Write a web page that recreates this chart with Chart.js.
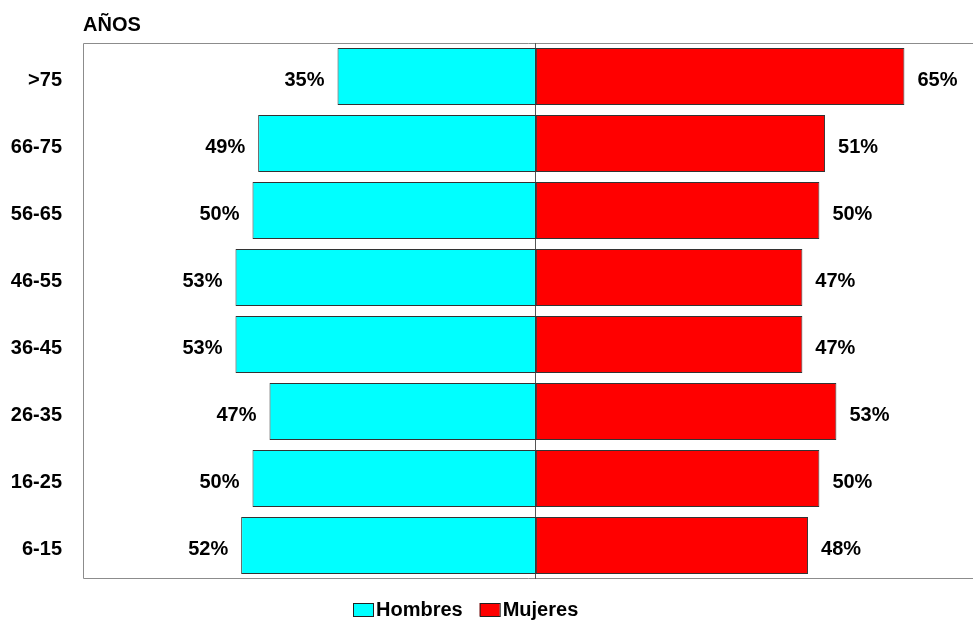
<!DOCTYPE html>
<html>
<head>
<meta charset="utf-8">
<script src="https://cdn.jsdelivr.net/npm/chart.js@4/dist/chart.umd.min.js"></script>
<style>
  html, body { margin: 0; padding: 0; background: #fff; overflow: hidden; }
</style>
</head>
<body>
<canvas id="grafico" width="973" height="621"></canvas>
<script>
// Datos
const grupos = ['>75', '66-75', '56-65', '46-55', '36-45', '26-35', '16-25', '6-15'];
const hombres = [35, 49, 50, 53, 53, 47, 50, 52];
const mujeres = [65, 51, 50, 47, 47, 53, 50, 48];
const series = ['Hombres', 'Mujeres'];
const colores = ['#00FFFF', '#FF0000'];

const FUENTE = '"Liberation Sans", Arial, sans-serif';

// Marco del área, línea central, etiquetas, título "AÑOS" y leyenda
const extras = {
  id: 'extras',
  beforeDatasetsDraw(chart) {
    const { ctx, chartArea: a, scales } = chart;
    ctx.save();
    ctx.strokeStyle = '#8c8c8c';
    ctx.lineWidth = 1;
    ctx.beginPath();
    ctx.moveTo(a.right + 2, a.top + 0.5);
    ctx.lineTo(a.left + 0.5, a.top + 0.5);
    ctx.lineTo(a.left + 0.5, a.bottom - 0.5);
    ctx.lineTo(a.right + 2, a.bottom - 0.5);
    ctx.stroke();
    const x0 = Math.round(scales.x.getPixelForValue(0)) - 0.5;
    ctx.strokeStyle = '#555';
    ctx.beginPath();
    ctx.moveTo(x0, a.top);
    ctx.lineTo(x0, a.bottom);
    ctx.stroke();
    ctx.restore();
  },
  afterDatasetsDraw(chart) {
    const { ctx } = chart;
    ctx.save();
    ctx.font = 'bold 20px ' + FUENTE;
    ctx.fillStyle = '#000';
    ctx.textBaseline = 'middle';
    chart.data.datasets.forEach((ds, i) => {
      chart.getDatasetMeta(i).data.forEach((bar, j) => {
        const v = ds.data[j];
        const txt = Math.abs(v) + '%';
        if (v < 0) {
          ctx.textAlign = 'right';
          ctx.fillText(txt, bar.x - 13, bar.y + 4);
        } else {
          ctx.textAlign = 'left';
          ctx.fillText(txt, bar.x + 13, bar.y + 4);
        }
      });
    });
    ctx.textAlign = 'left';
    ctx.textBaseline = 'alphabetic';
    ctx.fillText('AÑOS', chart.chartArea.left, 31);

    // leyenda
    let x = 353;
    series.forEach((nombre, i) => {
      ctx.fillStyle = colores[i];
      ctx.fillRect(x, 603, 20, 13);
      ctx.strokeStyle = '#222';
      ctx.lineWidth = 1;
      ctx.strokeRect(x + 0.5, 603.5, 20, 13);
      ctx.fillStyle = '#000';
      ctx.fillText(nombre, x + 23, 616);
      x += 23 + ctx.measureText(nombre).width + 17;
    });
    ctx.restore();
  }
};

new Chart(document.getElementById('grafico'), {
  type: 'bar',
  data: {
    labels: grupos,
    datasets: [
      {
        label: series[0],
        data: hombres.map(v => -v),
        backgroundColor: colores[0],
        borderColor: '#333',
        borderWidth: 1,
        borderSkipped: false
      },
      {
        label: series[1],
        data: mujeres,
        backgroundColor: colores[1],
        borderColor: '#333',
        borderWidth: 1,
        borderSkipped: false
      }
    ]
  },
  options: {
    indexAxis: 'y',
    responsive: false,
    animation: false,
    layout: { padding: { top: 43, left: 0, right: 0, bottom: 42 } },
    datasets: { bar: { barPercentage: 0.85, categoryPercentage: 1 } },
    scales: {
      x: {
        stacked: true,
        min: -79.9,
        max: 77.1,
        display: false
      },
      y: {
        stacked: true,
        grid: { display: false, drawTicks: false },
        border: { display: false },
        ticks: {
          color: '#000',
          padding: 21,
          labelOffset: 4,
          font: { family: FUENTE, size: 20, weight: 'bold' }
        },
        afterFit(s) { s.width = 83; }
      }
    },
    plugins: {
      legend: { display: false },
      tooltip: { enabled: false }
    }
  },
  plugins: [extras]
});
</script>
</body>
</html>
